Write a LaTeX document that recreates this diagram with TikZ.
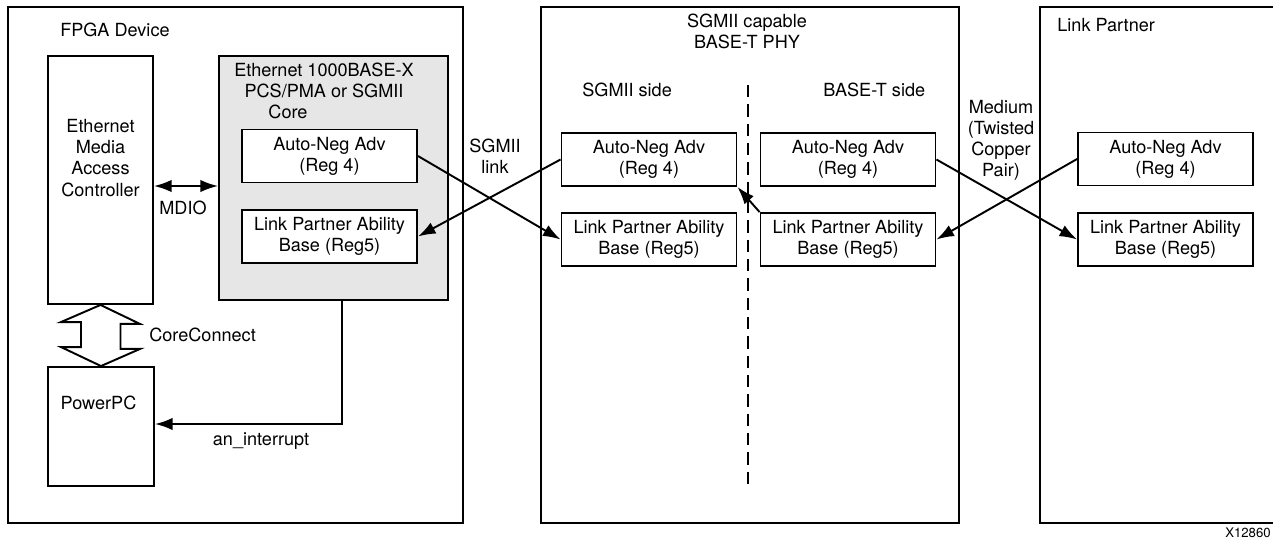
\documentclass[tikz,border=0pt]{standalone}
\usepackage{fontspec}
\setmainfont{TeX Gyre Heros}
\usetikzlibrary{arrows.meta}
\definecolor{coregray}{HTML}{E6E6E6}
\tikzset{
  blk/.style={draw, line width=1.1pt, inner sep=0pt},
  reg/.style={blk, fill=white, minimum width=3.5cm, minimum height=1.06cm, align=center},
  txt/.style={align=center, inner sep=0pt},
  link/.style={->, line width=1.1pt},
}

\begin{document}
\begin{tikzpicture}[x=0.02cm, y=-0.02cm, >={Latex[length=10pt,width=7pt]},
    font=\fontsize{10.3}{12}\selectfont, line join=miter]
  \useasboundingbox (0,0) rectangle (1273,541);

  % FPGA device
  \node[blk, minimum width=9.1cm, minimum height=10.32cm] (fpga) at (235.5,265) {};
  \node[txt, anchor=west] (fpgalbl) at (60,30) {FPGA Device};
  \node[blk, minimum width=2.1cm, minimum height=4.96cm] (emac) at (100.5,180) {};
  \node[txt] (emactxt) at (100.5,158) {Ethernet\\Media\\Access\\Controller};
  \node[blk, fill=coregray, minimum width=4.58cm, minimum height=4.88cm] (core) at (333.5,178) {};
  \node[txt] (coretxt) at (324,91) {Ethernet 1000BASE-X\\PCS/PMA or SGMII\\Core\hspace*{1.44cm}};
  \node[reg] (coreadv) at (329.5,156) {Auto-Neg Adv\\(Reg 4)};
  \node[reg] (corelp) at (329.5,236.5) {Link Partner Ability\\Base (Reg5)};
  \node[blk, minimum width=2.12cm, minimum height=2.38cm] (ppc) at (101,426.5) {};
  \node[txt] (ppctxt) at (98.5,403) {PowerPC};

  % MDIO
  \coordinate (mdioy) at (0,186);
  \draw[<->, line width=1.1pt] (emac.east |- mdioy) -- (core.west |- mdioy);
  \node[txt] (mdiolbl) at (183,208) {MDIO};

  % CoreConnect bus
  \draw[line width=1.1pt] (emac.south) -- ++(39.5,19) -- ++(-19.5,0) -- ++(0,25) -- ++(19.5,0)
    -- (ppc.north) -- ++(-40,-19) -- ++(20,0) -- ++(0,-25) -- ++(-20,0) -- cycle;
  \node[txt, anchor=west] (cclbl) at (149,335) {CoreConnect};

  % interrupt
  \coordinate (irq) at (342,424);
  \draw[link] (irq |- core.south) -- (irq) -- (irq -| ppc.east);
  \node[txt] (irqlbl) at (261,441) {an\_interrupt};

  % SGMII capable PHY
  \node[blk, minimum width=8.36cm, minimum height=10.32cm] (phy) at (750,265) {};
  \node[txt] (phytxt) at (747,31) {SGMII capable\\BASE-T PHY};
  \node[txt, anchor=west] (sgside) at (582,90) {SGMII side};
  \node[txt, anchor=west] (btside) at (823,90) {BASE-T side};
  \draw[dash pattern=on 7pt off 4pt, line width=0.6pt] (748,85) -- (748,487);
  \node[reg] (sgadv) at (649,159.5) {Auto-Neg Adv\\(Reg 4)};
  \node[reg] (sglp) at (649,239.5) {Link Partner Ability\\Base (Reg5)};
  \node[reg] (btadv) at (848,159.5) {Auto-Neg Adv\\(Reg 4)};
  \node[reg] (btlp) at (848,239.5) {Link Partner Ability\\Base (Reg5)};

  % Link partner
  \node[blk, minimum width=5.2cm, minimum height=10.32cm] (lp) at (1170,265) {};
  \node[txt, anchor=west] (lplbl) at (1057,25) {Link Partner};
  \node[reg] (lpadv) at (1165.5,159) {Auto-Neg Adv\\(Reg 4)};
  \node[reg] (lplp) at (1165.5,239.5) {Link Partner Ability\\Base (Reg5)};

  % links
  \node[txt] (sgmiilbl) at (495,156) {SGMII\\link};
  \node[txt] (medlbl) at (1001,140) {Medium\\(Twisted\\Copper\\Pair)};
  \draw[link] (coreadv.east) -- (sglp.west);
  \draw[link] (sgadv.west) -- (corelp.east);
  \draw[link] (btlp.north west) -- (sgadv.south east);
  \draw[link] (btadv.east) -- (lplp.west);
  \draw[link] (lpadv.west) -- (btlp.east);

  \node[txt, anchor=east, font=\fontsize{7.5}{9}\selectfont] (fignum) at (1271,533) {X12860};
\end{tikzpicture}
\end{document}
